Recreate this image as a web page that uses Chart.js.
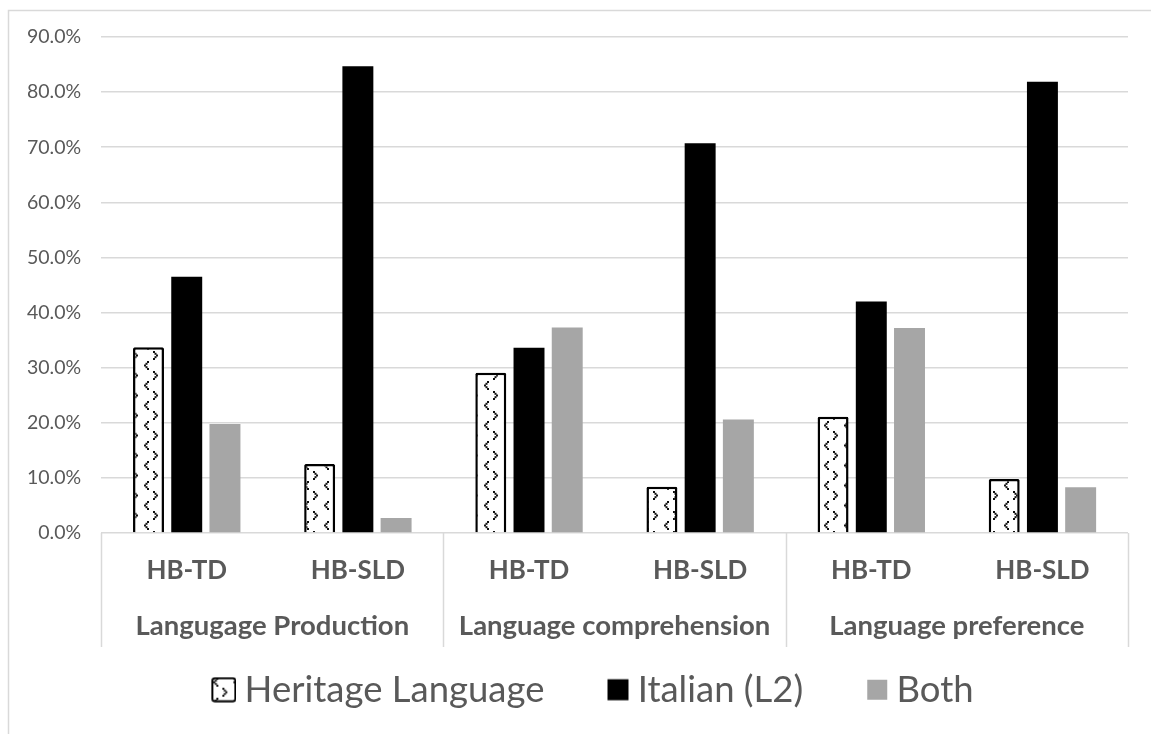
<!DOCTYPE html>
<html>
<head>
<meta charset="utf-8">
<script src="https://cdn.jsdelivr.net/npm/chart.js@4/dist/chart.umd.min.js"></script>
<style>
  html, body { margin: 0; padding: 0; background: #ffffff; }
  #wrap { position: relative; width: 1151px; height: 734px; }
</style>
</head>
<body>
<div id="wrap"><canvas id="chart" width="1151" height="734"></canvas></div>
<script>
// Categories: condition per measure, and the three measures
const conditions = ['HB-TD', 'HB-SLD', 'HB-TD', 'HB-SLD', 'HB-TD', 'HB-SLD'];
const measures = ['Langugage Production', 'Language comprehension', 'Language preference'];

// Share of answers per language (percent)
const heritageLanguage = [33.7, 12.5, 29.1, 8.4, 21.1, 9.8];
const italianL2 = [46.5, 84.7, 33.6, 70.7, 42.0, 81.9];
const both = [19.8, 2.7, 37.3, 20.6, 37.2, 8.3];

// Y axis ticks
const yTicks = [0, 10, 20, 30, 40, 50, 60, 70, 80, 90];

const seriesNames = ['Heritage Language', 'Italian (L2)', 'Both'];

const textGrey = '#595959';
const lineGrey = '#d9d9d9';
const bothGrey = '#a6a6a6';

// Small dotted-chevron tile used for the heritage-language fill
function chevronTile() {
  const c = document.createElement('canvas');
  c.width = 20; c.height = 20;
  const g = c.getContext('2d');
  g.fillStyle = '#ffffff';
  g.fillRect(0, 0, 20, 20);
  g.fillStyle = '#111111';
  const dot = (x, y) => g.fillRect(x, y, 2, 2);
  // "<"
  dot(7, 1); dot(5.5, 2.8); dot(4, 4.5); dot(5.5, 6.2); dot(7, 8);
  // ">"
  dot(13, 11); dot(14.5, 12.8); dot(16, 14.5); dot(14.5, 16.2); dot(13, 18);
  return c;
}
const tile = chevronTile();
const chevron = document.createElement('canvas').getContext('2d').createPattern(tile, 'repeat');

// Legend markers: a small square at the right end of a wider transparent image
const MARK_W = 67, MARK_H = 26;
function legendMark(size, paint) {
  const c = document.createElement('canvas');
  c.width = MARK_W; c.height = MARK_H;
  const g = c.getContext('2d');
  const x = MARK_W - size - 1, y = (MARK_H - size) / 2;
  paint(g, x, y, size);
  return c;
}
const legendMarks = [
  legendMark(23, (g, x, y, s) => {
    g.fillStyle = g.createPattern(tile, 'repeat');
    g.beginPath(); g.roundRect(x, y, s, s, 2.5); g.fill();
    g.lineWidth = 2; g.strokeStyle = '#000000'; g.stroke();
  }),
  legendMark(21, (g, x, y, s) => { g.fillStyle = '#000000'; g.fillRect(x, y, s, s); }),
  legendMark(20, (g, x, y, s) => { g.fillStyle = bothGrey; g.fillRect(x, y, s, s); })
];

// Outer frame, and the table lines under the plot separating the measures
const framePlugin = {
  id: 'frameLines',
  afterLayout(chart) {
    // nudge the legend row to the right
    chart.legend.left += 9;
    chart.legend.right += 9;
  },
  beforeDraw(chart) {
    const ctx = chart.ctx;
    ctx.save();
    ctx.strokeStyle = lineGrey;
    ctx.lineWidth = 1.5;
    ctx.beginPath();
    ctx.moveTo(8.5, chart.height);
    ctx.lineTo(8.5, 10.5);
    ctx.lineTo(chart.width, 10.5);
    ctx.stroke();
    ctx.restore();
  },
  afterDraw(chart) {
    const ctx = chart.ctx;
    const xs = chart.scales.x;
    const area = chart.chartArea;
    const bottom = 647;
    const edges = [area.left];
    for (let i = 1; i < conditions.length - 1; i += 2) {
      edges.push((xs.getPixelForValue(i) + xs.getPixelForValue(i + 1)) / 2);
    }
    edges.push(area.right);
    ctx.save();
    ctx.strokeStyle = lineGrey;
    ctx.lineWidth = 1.5;
    ctx.beginPath();
    edges.forEach(x => {
      ctx.moveTo(Math.round(x) + 0.5, area.bottom);
      ctx.lineTo(Math.round(x) + 0.5, bottom);
    });
    ctx.stroke();
    ctx.restore();
  }
};

new Chart(document.getElementById('chart'), {
  type: 'bar',
  data: {
    labels: conditions,
    datasets: [
      {
        label: seriesNames[0],
        data: heritageLanguage,
        backgroundColor: chevron,
        borderColor: '#000000',
        borderWidth: 2.5,
        borderRadius: 1.5,
        borderSkipped: 'start',
        xAxisID: 'x'
      },
      {
        label: seriesNames[1],
        data: italianL2,
        backgroundColor: '#000000',
        borderWidth: 0,
        xAxisID: 'x'
      },
      {
        label: seriesNames[2],
        data: both,
        backgroundColor: bothGrey,
        borderWidth: 0,
        xAxisID: 'x'
      }
    ]
  },
  options: {
    responsive: false,
    animation: false,
    devicePixelRatio: 1,
    categoryPercentage: 0.67,
    barPercentage: 0.81,
    layout: { padding: { top: 37, left: 7, right: 23, bottom: 16 } },
    plugins: {
      tooltip: { enabled: false },
      legend: {
        position: 'bottom',
        labels: {
          usePointStyle: true,
          pointStyleWidth: 47,
          padding: 28,
          color: textGrey,
          font: { family: 'Lato', size: 36.5 },
          generateLabels(chart) {
            const items = Chart.defaults.plugins.legend.labels.generateLabels(chart);
            items.forEach((it, i) => { it.pointStyle = legendMarks[i]; });
            return items;
          }
        }
      }
    },
    scales: {
      y: {
        min: 0,
        max: 90,
        afterBuildTicks(scale) { scale.ticks = yTicks.map(v => ({ value: v })); },
        ticks: {
          padding: 20,
          color: textGrey,
          font: { family: 'Lato', size: 19.5 },
          callback: v => Number(v).toFixed(1) + '%'
        },
        grid: { color: lineGrey, lineWidth: 1.5, drawTicks: false },
        border: { display: false }
      },
      x: {
        type: 'category',
        position: 'bottom',
        offset: true,
        ticks: {
          padding: 22,
          color: textGrey,
          maxRotation: 0,
          font: { family: 'Lato', size: 26, weight: 'bold' }
        },
        grid: { display: false, drawTicks: false },
        border: { display: false },
        afterFit(scale) { scale.height = 53; }
      },
      x2: {
        type: 'category',
        position: 'bottom',
        labels: measures,
        offset: true,
        ticks: {
          padding: 24,
          color: textGrey,
          maxRotation: 0,
          autoSkip: false,
          font: { family: 'Lato', size: 27.5, weight: 'bold' }
        },
        grid: { display: false, drawTicks: false },
        border: { display: false },
        afterFit(scale) { scale.height = 57.5; }
      }
    }
  },
  plugins: [framePlugin]
});
</script>
</body>
</html>
